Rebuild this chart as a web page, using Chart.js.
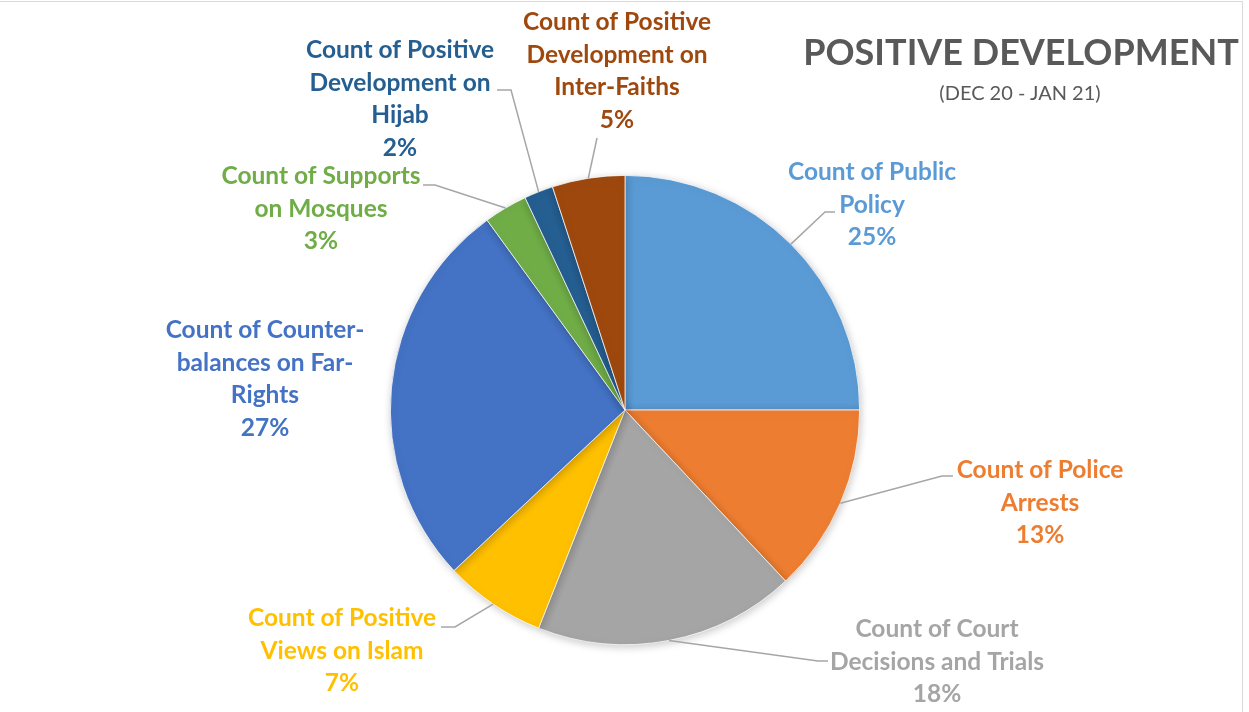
<!DOCTYPE html>
<html>
<head>
<meta charset="utf-8">
<script src="https://cdn.jsdelivr.net/npm/chart.js@4/dist/chart.umd.min.js"></script>
<style>
  html, body { margin: 0; padding: 0; background: #fff; }
  #wrap { position: relative; width: 1249px; height: 712px; overflow: hidden; }
  #frame { position: absolute; left: -2px; top: 1px; width: 1245px; height: 720px; border: 1px solid #d9d9d9; box-sizing: border-box; }
  #titulo { position: absolute; left: 780px; width: 482px; top: 29px; text-align: center;
    font: bold 36px Lato, "Open Sans", sans-serif; color: #595959; white-space: nowrap; }
  #subtitulo { position: absolute; left: 900px; width: 240px; top: 80px; text-align: center;
    font: 20px Lato, "Open Sans", sans-serif; color: #595959; }
  canvas { position: absolute; left: 0; top: 0; }
</style>
</head>
<body>
<div id="wrap">
  <div id="frame"></div>
  <canvas id="pizzaChart" width="1249" height="712"></canvas>
  <div id="titulo">POSITIVE DEVELOPMENT</div>
  <div id="subtitulo">(DEC 20 - JAN 21)</div>
</div>
<script>
// categorias e valores (em %)
const categorias = [
    ["Count of Public", "Policy"],
    ["Count of Police", "Arrests"],
    ["Count of Court", "Decisions and Trials"],
    ["Count of Positive", "Views on Islam"],
    ["Count of Counter-", "balances on Far-", "Rights"],
    ["Count of Supports", "on Mosques"],
    ["Count of Positive", "Development on", "Hijab"],
    ["Count of Positive", "Development on", "Inter-Faiths"]
];
const valores = [25, 13, 18, 7, 27, 3, 2, 5];
const cores = ['#5B9BD5', '#ED7D31', '#A5A5A5', '#FFC000', '#4472C4', '#70AD47', '#255E91', '#9E480E'];

// posicao dos rotulos relativa ao centro da pizza: [cx, y da 1a linha], ponta e cotovelo da linha guia
const rotulosLayout = [
    { pos: [247, -238], fim: [210, -198], cotovelo: [200, -198] },
    { pos: [415, 60], fim: [328, 66], cotovelo: [317, 66] },
    { pos: [312, 219], fim: [203, 251], cotovelo: [193, 251] },
    { pos: [-283, 208], fim: [-184, 217], cotovelo: [-170, 217] },
    { pos: [-360, -80], fim: null, cotovelo: null },
    { pos: [-304, -234], fim: [-202, -225], cotovelo: [-190, -225] },
    { pos: [-225, -360], fim: [-128, -320], cotovelo: [-114, -320] },
    { pos: [-8, -388], fim: [-28, -272], cotovelo: null }
];

const sombraPlugin = {
    id: 'sombra',
    beforeDatasetsDraw(chart) {
        chart.ctx.save();
        chart.ctx.shadowColor = 'rgba(0,0,0,0.22)';
        chart.ctx.shadowBlur = 8;
        chart.ctx.shadowOffsetX = 1;
        chart.ctx.shadowOffsetY = 2;
    },
    afterDatasetsDraw(chart) {
        chart.ctx.restore();
    }
};

const rotulosPlugin = {
    id: 'rotulos',
    afterDatasetsDraw(chart) {
        const ctx = chart.ctx;
        const meta = chart.getDatasetMeta(0);
        const total = valores.reduce((a, b) => a + b, 0);
        ctx.save();
        ctx.shadowColor = 'transparent';
        meta.data.forEach((arc, i) => {
            const cx = arc.x, cy = arc.y;
            const meio = (arc.startAngle + arc.endAngle) / 2;
            const lay = rotulosLayout[i];
            // linha guia
            if (lay.fim) {
                ctx.beginPath();
                ctx.strokeStyle = '#A6A6A6';
                ctx.lineWidth = 1.5;
                ctx.moveTo(cx + Math.cos(meio) * arc.outerRadius, cy + Math.sin(meio) * arc.outerRadius);
                if (lay.cotovelo) ctx.lineTo(cx + lay.cotovelo[0], cy + lay.cotovelo[1]);
                ctx.lineTo(cx + lay.fim[0], cy + lay.fim[1]);
                ctx.stroke();
            }
            // texto
            const linhas = categorias[i].concat([Math.round(valores[i] / total * 100) + '%']);
            ctx.fillStyle = cores[i];
            ctx.font = 'bold 24.5px Lato, "Open Sans", sans-serif';
            ctx.textAlign = 'center';
            ctx.textBaseline = 'middle';
            linhas.forEach((l, j) => {
                ctx.fillText(l, cx + lay.pos[0], cy + lay.pos[1] + j * 32.7);
            });
        });
        ctx.restore();
    }
};

const ctx = document.getElementById('pizzaChart').getContext('2d');
const grafico = new Chart(ctx, {
    type: 'pie',
    data: {
        labels: categorias.map(c => c.join(' ')),
        datasets: [{
            data: valores,
            backgroundColor: cores,
            borderColor: '#ffffff',
            borderWidth: 0.75
        }]
    },
    options: {
        responsive: false,
        animation: false,
        layout: { padding: { top: 175, bottom: 67, left: 390, right: 389 } },
        plugins: {
            legend: { display: false },
            tooltip: { enabled: false }
        }
    },
    plugins: [sombraPlugin, rotulosPlugin]
});
</script>
</body>
</html>
